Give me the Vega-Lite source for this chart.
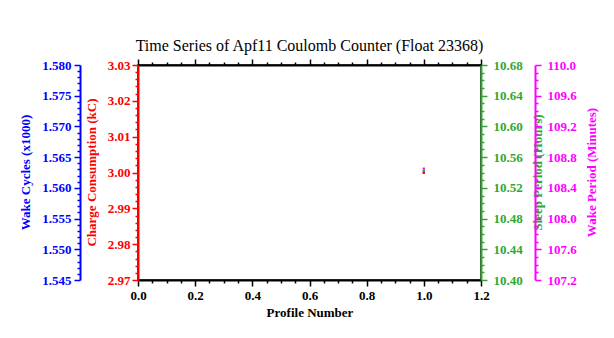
{
  "$schema": "https://vega.github.io/schema/vega-lite/v6.json",
  "width": 343,
  "height": 215,
  "autosize": "none",
  "padding": {"left": 138, "top": 65, "right": 133, "bottom": 58},
  "background": "white",
  "config": {
    "view": {"stroke": "black", "strokeWidth": 1.5},
    "font": "Liberation Serif",
    "axis": {"labelFont": "Liberation Serif", "titleFont": "Liberation Serif", "labelFontSize": 13, "titleFontSize": 13, "labelFontWeight": "bold", "titleFontWeight": "bold", "grid": false, "domainWidth": 2, "tickWidth": 1.5, "labelOverlap": false, "labelFlush": false}
  },
  "title": {"text": "Time Series of Apf11 Coulomb Counter (Float 23368)", "font": "Liberation Serif", "fontSize": 16, "fontWeight": "normal", "offset": 4, "anchor": "middle"},
  "data": {"values": [{"profile": 1, "wake": 1.5625, "charge": 3.0, "sleep": 10.542, "wakeper": 108.65}]},
  "layer": [
    {
      "mark": {"type": "point", "shape": "square", "filled": true, "size": 5, "color": "#0000ff", "opacity": 1},
      "encoding": {
        "x": {"field": "profile", "type": "quantitative", "scale": {"domain": [0, 1.2], "nice": false, "zero": false},
          "axis": {"orient": "bottom", "title": "Profile Number", "titleColor": "black", "titlePadding": 4, "domainColor": "black", "tickColor": "black", "labelColor": "black",
            "values": [0,0.05,0.1,0.15,0.2,0.25,0.3,0.35,0.4,0.45,0.5,0.55,0.6,0.65,0.7,0.75,0.8,0.85,0.9,0.95,1,1.05,1.1,1.15,1.2],
            "labelExpr": "round(datum.value*100)%20==0 ? format(datum.value,'.1f') : ''",
            "tickSize": {"condition": {"test": "round(datum.value*100)%20!=0", "value": 3}, "value": 6},
            "labelPadding": 3}},
        "y": {"field": "wake", "type": "quantitative", "scale": {"domain": [1.545, 1.58], "nice": false, "zero": false},
          "axis": {"orient": "left", "offset": 58, "title": "Wake Cycles (x1000)", "titleColor": "#0000ff", "labelColor": "#0000ff", "domainColor": "#0000ff", "tickColor": "#0000ff",
            "values": [1.545,1.546,1.547,1.548,1.549,1.55,1.551,1.552,1.553,1.554,1.555,1.556,1.557,1.558,1.559,1.56,1.561,1.562,1.563,1.564,1.565,1.566,1.567,1.568,1.569,1.57,1.571,1.572,1.573,1.574,1.575,1.576,1.577,1.578,1.579,1.58],
            "labelExpr": "round(datum.value*1000)%5==0 ? format(datum.value,'.3f') : ''",
            "tickSize": {"condition": {"test": "round(datum.value*1000)%5!=0", "value": 3}, "value": 6},
            "labelPadding": 3, "titleX": -55, "titleY": 107, "titleAngle": -90, "titleAlign": "center", "titleBaseline": "middle"}}
      }
    },
    {
      "mark": {"type": "point", "shape": "square", "filled": true, "size": 5, "color": "#ff0000", "opacity": 1},
      "encoding": {
        "x": {"field": "profile", "type": "quantitative",
          "axis": {"orient": "top", "title": null, "domainColor": "black", "tickColor": "black",
            "values": [0,0.05,0.1,0.15,0.2,0.25,0.3,0.35,0.4,0.45,0.5,0.55,0.6,0.65,0.7,0.75,0.8,0.85,0.9,0.95,1,1.05,1.1,1.15,1.2],
            "labels": false,
            "tickSize": {"condition": {"test": "round(datum.value*100)%20!=0", "value": 3}, "value": 6}}},
        "y": {"field": "charge", "type": "quantitative", "scale": {"domain": [2.97, 3.03], "nice": false, "zero": false},
          "axis": {"orient": "left", "offset": 0, "title": "Charge Consumption (kC)", "titleColor": "#ff0000", "labelColor": "#ff0000", "domainColor": "#ff0000", "tickColor": "#ff0000",
            "values": [2.97,2.972,2.974,2.976,2.978,2.98,2.982,2.984,2.986,2.988,2.99,2.992,2.994,2.996,2.998,3.0,3.002,3.004,3.006,3.008,3.01,3.012,3.014,3.016,3.018,3.02,3.022,3.024,3.026,3.028,3.03],
            "labelExpr": "round(datum.value*1000)%10==0 ? format(datum.value,'.2f') : ''",
            "tickSize": {"condition": {"test": "round(datum.value*1000)%10!=0", "value": 3}, "value": 6},
            "labelPadding": 2, "titleX": -47, "titleY": 107, "titleAngle": -90, "titleAlign": "center", "titleBaseline": "middle"}}
      }
    },
    {
      "mark": {"type": "point", "shape": "square", "filled": true, "size": 5, "color": "#30a830", "opacity": 1},
      "encoding": {
        "x": {"field": "profile", "type": "quantitative", "axis": null},
        "y": {"field": "sleep", "type": "quantitative", "scale": {"domain": [10.4, 10.68], "nice": false, "zero": false},
          "axis": {"orient": "right", "offset": 0, "title": "Sleep Period (Hours)", "titleColor": "#30a830", "labelColor": "#30a830", "domainColor": "#30a830", "tickColor": "#30a830",
            "values": [10.4,10.41,10.42,10.43,10.44,10.45,10.46,10.47,10.48,10.49,10.5,10.51,10.52,10.53,10.54,10.55,10.56,10.57,10.58,10.59,10.6,10.61,10.62,10.63,10.64,10.65,10.66,10.67,10.68],
            "labelExpr": "round(datum.value*100)%4==0 ? format(datum.value,'.2f') : ''",
            "tickSize": {"condition": {"test": "round(datum.value*100)%4!=0", "value": 3}, "value": 6},
            "labelPadding": 6, "titleX": 56, "titleY": 107, "titleAngle": -90, "titleAlign": "center", "titleBaseline": "middle"}}
      }
    },
    {
      "mark": {"type": "point", "shape": "square", "filled": true, "size": 5, "color": "#ff00ff", "opacity": 1},
      "encoding": {
        "x": {"field": "profile", "type": "quantitative", "axis": null},
        "y": {"field": "wakeper", "type": "quantitative", "scale": {"domain": [107.2, 110.0], "nice": false, "zero": false},
          "axis": {"orient": "right", "offset": 54, "title": "Wake Period (Minutes)", "titleColor": "#ff00ff", "labelColor": "#ff00ff", "domainColor": "#ff00ff", "tickColor": "#ff00ff",
            "values": [107.2,107.3,107.4,107.5,107.6,107.7,107.8,107.9,108.0,108.1,108.2,108.3,108.4,108.5,108.6,108.7,108.8,108.9,109.0,109.1,109.2,109.3,109.4,109.5,109.6,109.7,109.8,109.9,110.0],
            "labelExpr": "round(datum.value*10)%4==0 ? format(datum.value,'.1f') : ''",
            "tickSize": {"condition": {"test": "round(datum.value*10)%4!=0", "value": 3}, "value": 6},
            "labelPadding": 6, "titleX": 56, "titleY": 107, "titleAngle": -90, "titleAlign": "center", "titleBaseline": "middle"}}
      }
    }
  ],
  "resolve": {"scale": {"y": "independent"}, "axis": {"x": "independent", "y": "independent"}}
}
